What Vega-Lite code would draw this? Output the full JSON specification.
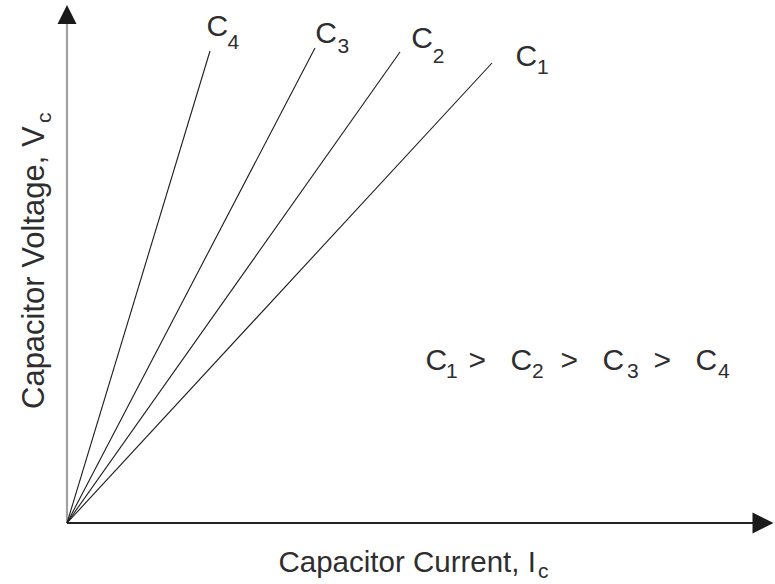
{
  "$schema": "https://vega.github.io/schema/vega-lite/v6.json",
  "width": 775,
  "height": 584,
  "padding": 0,
  "autosize": "none",
  "background": "white",
  "config": {"view": {"stroke": null}},
  "datasets": {
    "lines": [
      {"series": "C1", "current": 0, "voltage": 0},
      {"series": "C1", "current": 425, "voltage": 460},
      {"series": "C2", "current": 0, "voltage": 0},
      {"series": "C2", "current": 333, "voltage": 471},
      {"series": "C3", "current": 0, "voltage": 0},
      {"series": "C3", "current": 248, "voltage": 475},
      {"series": "C4", "current": 0, "voltage": 0},
      {"series": "C4", "current": 143, "voltage": 472}
    ],
    "axes": [
      {"axis": "x", "x": 0, "y": 0, "x2": 686, "y2": 0},
      {"axis": "y", "x": 0, "y": 0, "x2": 0, "y2": 499}
    ],
    "arrows": [
      {"axis": "x", "x": 696, "y": 0},
      {"axis": "y", "x": 0, "y": 508.5}
    ],
    "labels": [
      {"role": "main", "text": "C", "x": 139.5, "y": 487},
      {"role": "sub", "text": "4", "x": 160.6, "y": 474},
      {"role": "main", "text": "C", "x": 248.2, "y": 480},
      {"role": "sub", "text": "3", "x": 270.5, "y": 470},
      {"role": "main", "text": "C", "x": 344.2, "y": 475},
      {"role": "sub", "text": "2", "x": 365.7, "y": 460},
      {"role": "main", "text": "C", "x": 448.5, "y": 457},
      {"role": "sub", "text": "1", "x": 470, "y": 449},
      {"role": "main", "text": "C", "x": 358.5, "y": 153},
      {"role": "sub", "text": "1", "x": 379, "y": 145},
      {"role": "main", "text": ">", "x": 401.6, "y": 153},
      {"role": "main", "text": "C", "x": 443.5, "y": 153},
      {"role": "sub", "text": "2", "x": 465, "y": 145},
      {"role": "main", "text": ">", "x": 493.6, "y": 153},
      {"role": "main", "text": "C", "x": 535.5, "y": 153},
      {"role": "sub", "text": "3", "x": 560, "y": 145},
      {"role": "main", "text": ">", "x": 586.6, "y": 153},
      {"role": "main", "text": "C", "x": 628.5, "y": 153},
      {"role": "sub", "text": "4", "x": 651, "y": 145},
      {"role": "xtitle", "text": "Capacitor Current, I", "x": 211.5, "y": -49},
      {"role": "sub", "text": "c", "x": 471, "y": -55},
      {"role": "ytitle", "text": "Capacitor Voltage, V", "x": -23, "y": 114},
      {"role": "ytitle_sub", "text": "c", "x": -16, "y": 400}
    ]
  },
  "layer": [
    {
      "data": {"name": "axes"},
      "transform": [{"filter": "datum.axis === 'y'"}],
      "mark": {"type": "rule", "stroke": "#a0a0a0", "strokeWidth": 2.2},
      "encoding": {
        "x": {"field": "x", "type": "quantitative", "scale": {"domain": [-67, 708], "nice": false, "zero": false}, "axis": null},
        "y": {"field": "y", "type": "quantitative", "scale": {"domain": [-61, 523], "nice": false, "zero": false}, "axis": null},
        "y2": {"field": "y2"}
      }
    },
    {
      "data": {"name": "axes"},
      "transform": [{"filter": "datum.axis === 'x'"}],
      "mark": {"type": "rule", "stroke": "#222222", "strokeWidth": 2},
      "encoding": {
        "x": {"field": "x", "type": "quantitative", "axis": null},
        "x2": {"field": "x2"},
        "y": {"field": "y", "type": "quantitative", "axis": null}
      }
    },
    {
      "data": {"name": "lines"},
      "mark": {"type": "line", "stroke": "#1a1a1a", "strokeWidth": 1.1},
      "encoding": {
        "x": {"field": "current", "type": "quantitative", "axis": null},
        "y": {"field": "voltage", "type": "quantitative", "axis": null},
        "detail": {"field": "series", "type": "nominal"}
      }
    },
    {
      "data": {"name": "arrows"},
      "transform": [{"filter": "datum.axis === 'y'"}],
      "mark": {"type": "point", "shape": "M-1,1L0,-1L1,1Z", "size": 361, "filled": true, "fill": "#1a1a1a", "opacity": 1, "strokeWidth": 0},
      "encoding": {
        "x": {"field": "x", "type": "quantitative", "axis": null},
        "y": {"field": "y", "type": "quantitative", "axis": null}
      }
    },
    {
      "data": {"name": "arrows"},
      "transform": [{"filter": "datum.axis === 'x'"}],
      "mark": {"type": "point", "shape": "M-1,-1L1,0L-1,1Z", "size": 441, "filled": true, "fill": "#1a1a1a", "opacity": 1, "strokeWidth": 0},
      "encoding": {
        "x": {"field": "x", "type": "quantitative", "axis": null},
        "y": {"field": "y", "type": "quantitative", "axis": null}
      }
    },
    {
      "data": {"name": "labels"},
      "transform": [{"filter": "datum.role === 'main'"}],
      "mark": {"type": "text", "font": "Liberation Sans", "fontSize": 30, "align": "left", "baseline": "alphabetic", "fill": "#2e2e2e"},
      "encoding": {
        "x": {"field": "x", "type": "quantitative", "axis": null},
        "y": {"field": "y", "type": "quantitative", "axis": null},
        "text": {"field": "text"}
      }
    },
    {
      "data": {"name": "labels"},
      "transform": [{"filter": "datum.role === 'xtitle'"}],
      "mark": {"type": "text", "font": "Liberation Sans", "fontSize": 29.5, "align": "left", "baseline": "alphabetic", "fill": "#2e2e2e"},
      "encoding": {
        "x": {"field": "x", "type": "quantitative", "axis": null},
        "y": {"field": "y", "type": "quantitative", "axis": null},
        "text": {"field": "text"}
      }
    },
    {
      "data": {"name": "labels"},
      "transform": [{"filter": "datum.role === 'sub'"}],
      "mark": {"type": "text", "font": "Liberation Sans", "fontSize": 21, "align": "left", "baseline": "alphabetic", "fill": "#2e2e2e"},
      "encoding": {
        "x": {"field": "x", "type": "quantitative", "axis": null},
        "y": {"field": "y", "type": "quantitative", "axis": null},
        "text": {"field": "text"}
      }
    },
    {
      "data": {"name": "labels"},
      "transform": [{"filter": "datum.role === 'ytitle'"}],
      "mark": {"type": "text", "font": "Liberation Sans", "fontSize": 31, "angle": 270, "align": "left", "baseline": "alphabetic", "fill": "#2e2e2e"},
      "encoding": {
        "x": {"field": "x", "type": "quantitative", "axis": null},
        "y": {"field": "y", "type": "quantitative", "axis": null},
        "text": {"field": "text"}
      }
    },
    {
      "data": {"name": "labels"},
      "transform": [{"filter": "datum.role === 'ytitle_sub'"}],
      "mark": {"type": "text", "font": "Liberation Sans", "fontSize": 21, "angle": 270, "align": "left", "baseline": "alphabetic", "fill": "#2e2e2e"},
      "encoding": {
        "x": {"field": "x", "type": "quantitative", "axis": null},
        "y": {"field": "y", "type": "quantitative", "axis": null},
        "text": {"field": "text"}
      }
    }
  ]
}
